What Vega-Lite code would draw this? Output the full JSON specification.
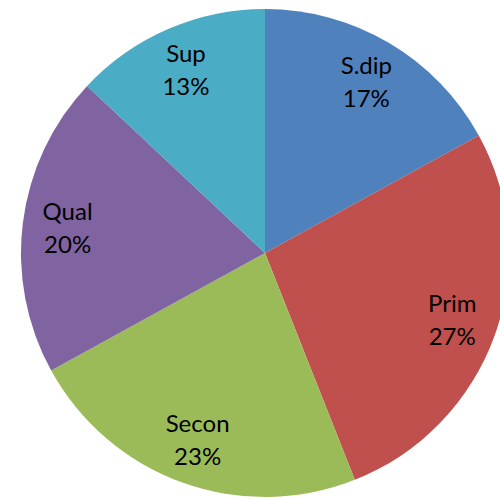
{
  "$schema": "https://vega.github.io/schema/vega-lite/v6.json",
  "width": 530,
  "height": 506,
  "padding": 0,
  "autosize": {"type": "none"},
  "background": "white",
  "view": {"stroke": null},
  "data": {"values": [
    {"name": "S.dip", "pct": "17%", "value": 17, "order": 1},
    {"name": "Prim", "pct": "27%", "value": 27, "order": 2},
    {"name": "Secon", "pct": "23%", "value": 23, "order": 3},
    {"name": "Qual", "pct": "20%", "value": 20, "order": 4},
    {"name": "Sup", "pct": "13%", "value": 13, "order": 5}
  ]},
  "encoding": {
    "theta": {"field": "value", "type": "quantitative", "stack": true},
    "order": {"field": "order", "type": "quantitative"},
    "color": {
      "field": "name", "type": "nominal",
      "scale": {"domain": ["S.dip", "Prim", "Secon", "Qual", "Sup"],
                "range": ["#4F81BD", "#C0504D", "#9BBB59", "#8064A2", "#4BACC6"]},
      "legend": null
    }
  },
  "layer": [
    {"mark": {"type": "arc", "radius": 244}},
    {"mark": {"type": "text", "radius": 199, "dy": -15, "fontSize": 24, "font": "Lato", "color": "black"},
     "encoding": {"text": {"field": "name"}, "color": {"value": "black"}}},
    {"mark": {"type": "text", "radius": 199, "dy": 18, "fontSize": 24, "font": "Lato", "color": "black"},
     "encoding": {"text": {"field": "pct"}, "color": {"value": "black"}}}
  ]
}
